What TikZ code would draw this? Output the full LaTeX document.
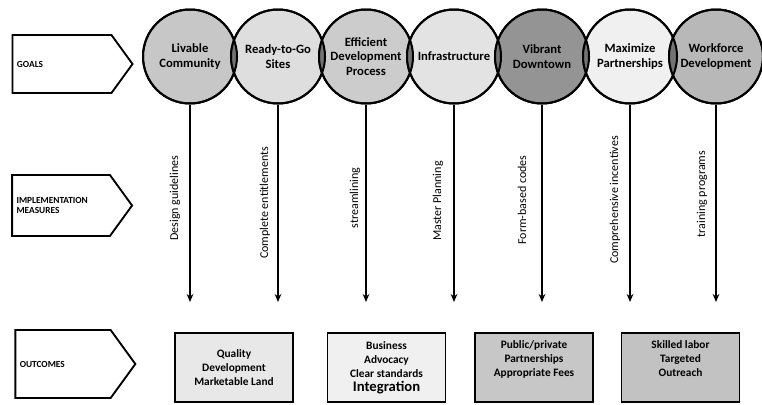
\documentclass[tikz,border=0pt]{standalone}
\usepackage{fontspec}
\setmainfont{Carlito}
\usetikzlibrary{arrows.meta,shapes.symbols,positioning}
\definecolor{goalA}{gray}{0.78}
\definecolor{goalB}{gray}{0.87}
\definecolor{goalC}{gray}{0.80}
\definecolor{goalD}{gray}{0.89}
\definecolor{goalE}{gray}{0.58}
\definecolor{goalF}{gray}{0.94}
\definecolor{goalG}{gray}{0.72}
\definecolor{outA}{gray}{0.91}
\definecolor{outB}{gray}{0.94}
\definecolor{outC}{gray}{0.78}
\definecolor{outD}{gray}{0.76}
\definecolor{lens}{gray}{0.45}
\tikzset{
	tag/.style={draw, line width=1.4pt, signal, signal to=east, signal pointer angle=108, minimum width=90pt, inner sep=0pt},
	tagtext/.style={font=\fontsize{7}{8}\selectfont\bfseries, align=left, anchor=west, xshift=0.5pt},
	goal/.style={circle, draw, line width=1.5pt, minimum size=70.5pt, inner sep=0pt, align=center, font=\fontsize{9.5}{11}\selectfont\bfseries, fill=#1},
	measure/.style={rotate=90, font=\fontsize{9}{10}\selectfont},
	meas/.style={line width=1.5pt, -{Stealth[length=6pt,width=5pt]}},
	outcome/.style={draw, line width=1.3pt, minimum width=88.5pt, minimum height=51.75pt, inner sep=0pt, align=center, font=\fontsize{8.5}{10.5}\selectfont\bfseries, fill=#1},
}
\begin{document}
\begin{tikzpicture}[x=0.75pt,y=-0.75pt]
\useasboundingbox (0,0) rectangle (762,404);
\node[tag, minimum height=43.5pt, label={[tagtext]west:GOALS}] (goals) at (62,64) {};
\node[tag, minimum height=45.75pt, label={[tagtext]west:IMPLEMENTATION\\MEASURES}] (impl) at (61,205.5) {};
\node[tag, minimum height=51pt, label={[tagtext]west:OUTCOMES}] (outc) at (63,364) {};
\node[goal=goalA] (g1) at (190,56.5) {Livable\\Community};
\node[goal=goalB] (g2) at (278,56.5) {Ready-to-Go\\Sites};
\node[goal=goalC] (g3) at (366,56.5) {Efficient\\Development\\Process};
\node[goal=goalD] (g4) at (454,56.5) {Infrastructure};
\node[goal=goalE] (g5) at (542,56.5) {Vibrant\\Downtown};
\node[goal=goalF] (g6) at (630,56.5) {Maximize\\Partnerships};
\node[goal=goalG] (g7) at (716,56.5) {Workforce\\Development};
\foreach \i/\j in {1/2,2/3,3/4,4/5,5/6,6/7}{
	\begin{scope}
		\clip (g\i.center) circle[radius=35.25pt];
		\fill[lens] (g\j.center) circle[radius=35.25pt];
	\end{scope}
}
\foreach \i in {1,...,7}{
	\draw[line width=1.5pt] (g\i.center) circle[radius=35.25pt];
	\coordinate (e\i) at (g\i |- 0,302);
	\draw[meas] (g\i) -- (e\i);
}
\node[measure] (m1) at (175,198) {Design guidelines};
\node[measure] (m2) at (265,203) {Complete entitlements};
\node[measure] (m3) at (355,198) {streamlining};
\node[measure] (m4) at (438,201) {Master Planning};
\node[measure] (m5) at (522,200) {Form-based codes};
\node[measure] (m6) at (615,200) {Comprehensive incentives};
\node[measure] (m7) at (702,194) {training programs};
\node[outcome=outA] (o1) at (234,367.5) {Quality\\Development\\Marketable Land};
\node[outcome=outB] (o2) at (386.5,367.5) {Business\\Advocacy\\Clear standards\\{\fontsize{11}{12}\selectfont Integration}};
\node[outcome=outC, text depth=14pt] (o3) at (534,367.5) {Public/private\\Partnerships\\Appropriate Fees};
\node[outcome=outD, text depth=14pt] (o4) at (680.5,367.5) {Skilled labor\\Targeted\\Outreach};
\end{tikzpicture}
\end{document}
